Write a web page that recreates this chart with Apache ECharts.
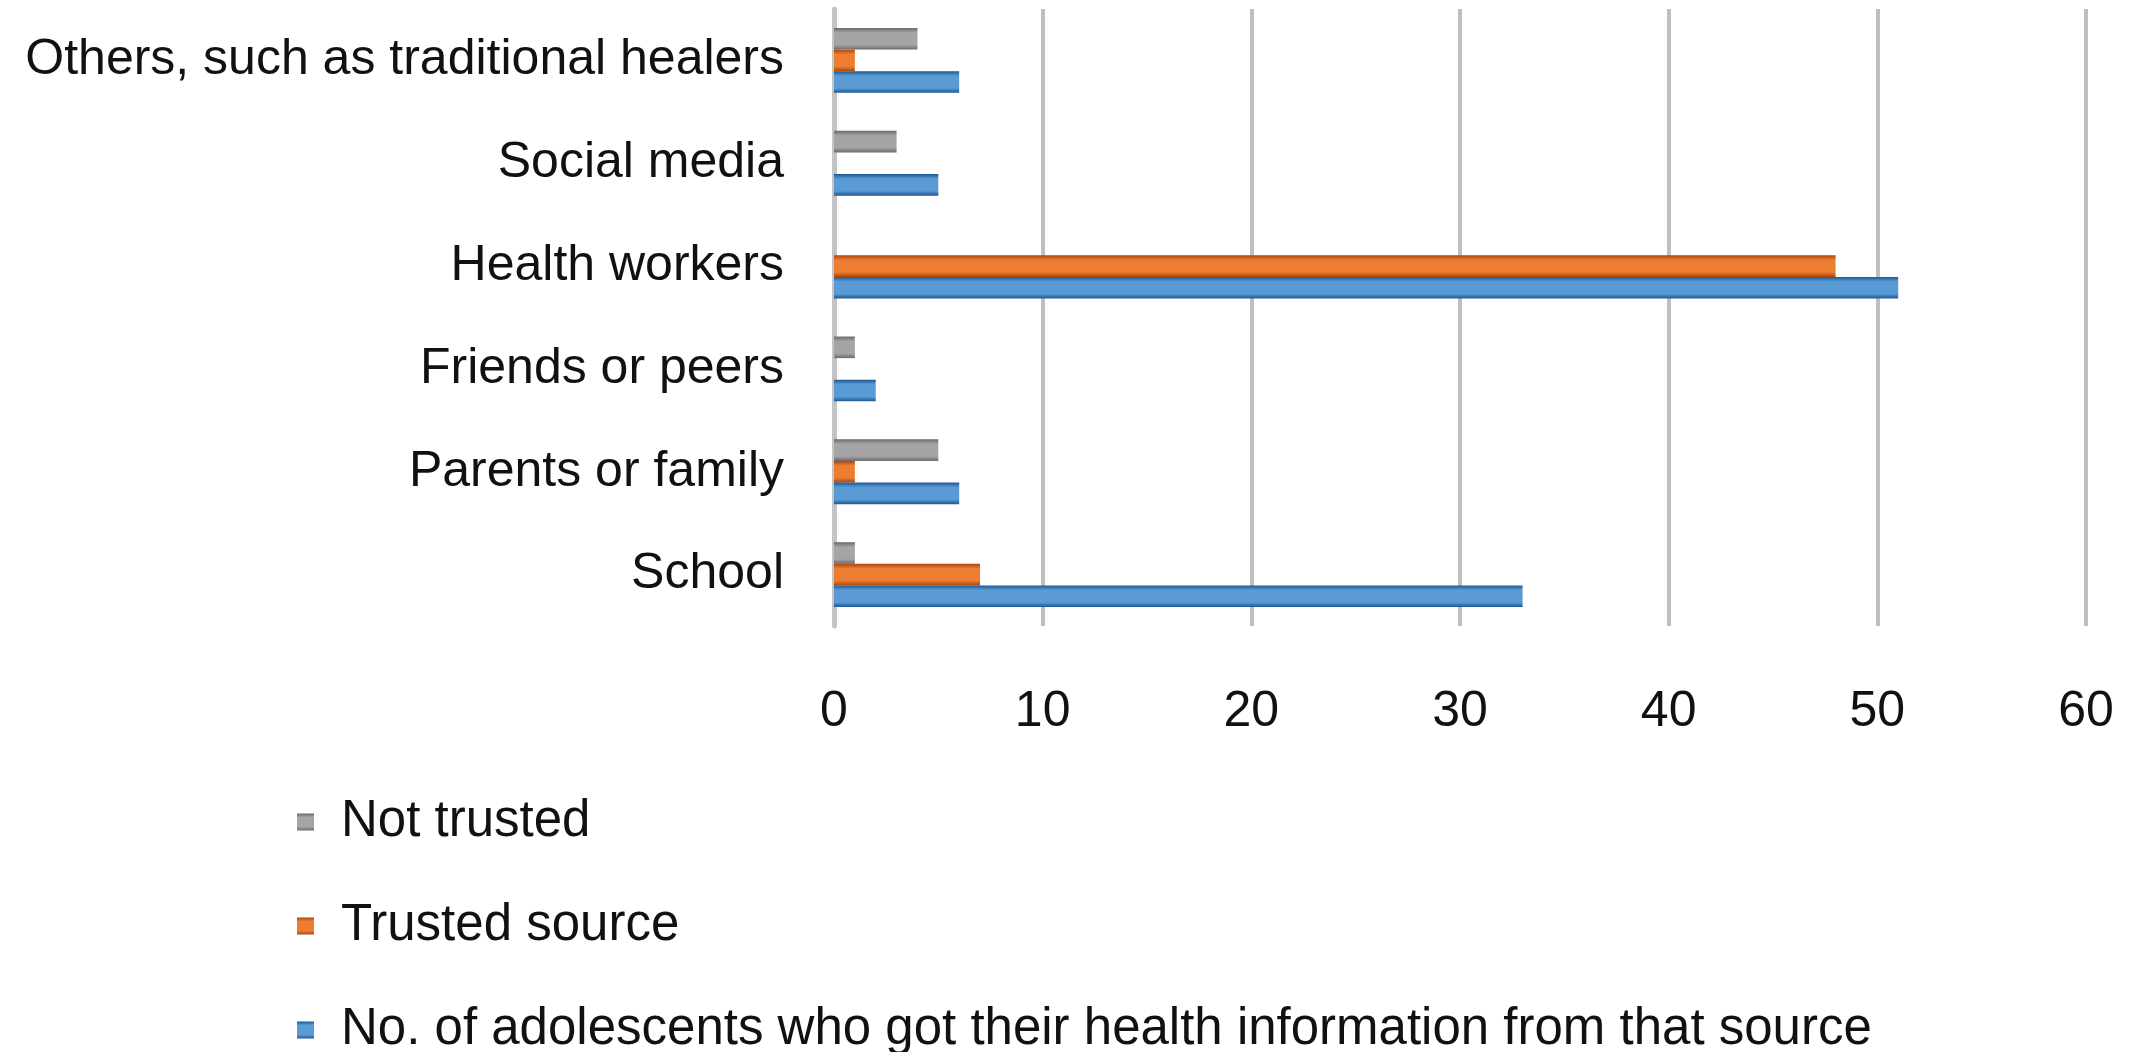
<!DOCTYPE html>
<html>
<head>
<meta charset="utf-8">
<title>Health information sources</title>
<script src="https://cdn.jsdelivr.net/npm/echarts@6/dist/echarts.min.js"></script>
<style>
  html, body { margin: 0; padding: 0; background: #ffffff; }
  #chart { width: 2136px; height: 1052px; }
</style>
</head>
<body>
<div id="chart"></div>
<script>
// Information sources, listed from the bottom of the chart upwards
const categories = [
  'School',
  'Parents or family',
  'Friends or peers',
  'Health workers',
  'Social media',
  'Others, such as traditional healers'
];

// Series in the order they sit inside each group, top to bottom
const seriesNames = [
  'Not trusted',
  'Trusted source',
  'No. of adolescents who got their health information from that source'
];

const notTrusted = [1, 5, 1, 0, 3, 4];
const trusted = [7, 1, 0, 48, 0, 1];
const gotInfo = [33, 6, 2, 51, 5, 6];

const xTicks = [0, 10, 20, 30, 40, 50, 60];

const FONT = '"Liberation Sans", Arial, sans-serif';

// Bevelled fill: dark edges, lighter body
function bevel(edge, body) {
  return new echarts.graphic.LinearGradient(0, 0, 0, 1, [
    { offset: 0, color: edge },
    { offset: 0.22, color: body },
    { offset: 0.78, color: body },
    { offset: 1, color: edge }
  ]);
}

const palette = [
  { edge: '#6a6a6a', body: '#a5a5a5' },
  { edge: '#a9470c', body: '#ed7d31' },
  { edge: '#1d5793', body: '#5b9bd5' }
];

const values = [notTrusted, trusted, gotInfo];

const chart = echarts.init(document.getElementById('chart'), null, { renderer: 'canvas' });

chart.setOption({
  backgroundColor: '#ffffff',
  animation: false,
  grid: { left: 834, right: 50, top: 9, bottom: 426, containLabel: false },
  legend: {
    orient: 'vertical',
    left: 292,
    top: 791,
    height: 400,
    itemWidth: 17,
    itemHeight: 17,
    itemGap: 52,
    icon: 'rect',
    data: seriesNames,
    textStyle: {
      fontFamily: FONT,
      fontSize: 51,
      lineHeight: 52,
      color: '#111111',
      padding: [0, 0, 0, 22]
    }
  },
  xAxis: {
    type: 'value',
    min: xTicks[0],
    max: xTicks[xTicks.length - 1],
    interval: xTicks[1] - xTicks[0],
    axisLine: { show: false },
    axisTick: { show: false },
    axisLabel: {
      margin: 61,
      fontFamily: FONT,
      fontSize: 50,
      color: '#111111'
    },
    splitLine: { lineStyle: { color: '#bfbfbf', width: 4 } }
  },
  yAxis: {
    type: 'category',
    data: categories,
    axisLine: { show: true, lineStyle: { color: '#c4c4c4', width: 5 } },
    axisTick: { show: false },
    axisLabel: {
      margin: 50,
      fontFamily: FONT,
      fontSize: 50,
      color: '#111111'
    }
  },
  series: seriesNames.map((name, i) => ({
    name: name,
    type: 'bar',
    data: values[i],
    barGap: '0%',
    barCategoryGap: '37%',
    itemStyle: { color: bevel(palette[i].edge, palette[i].body) }
  }))
});
</script>
</body>
</html>
